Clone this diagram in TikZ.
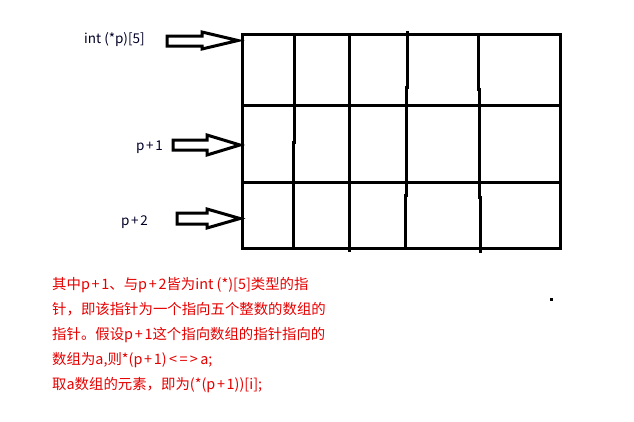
\documentclass[tikz,border=0pt]{standalone}
\usepackage{fontspec}
\setmainfont{Liberation Sans}
\newfontfamily\cjk{Noto Sans CJK SC}
\newcommand{\pl}{\hspace{0.12em}+\hspace{0.12em}}
\begin{document}
\begin{tikzpicture}[x=1pt,y=-1pt,
  gridline/.style={line width=3pt,line cap=rect},
  blockarr/.style={draw=black,line width=3pt,fill=white,line join=miter},
  lbl/.style={anchor=west,inner sep=0pt,font=\cjk\fontsize{13.5}{15}\selectfont,text=black!85!blue},
  note/.style={anchor=north west,inner sep=0pt,align=left,text=red!90!black,
    font=\cjk\fontsize{14.4}{25}\selectfont}]
\useasboundingbox (0,0) rectangle (634,421);
% grid
\draw[gridline] (242,34) rectangle (560,248);
\draw[gridline] (242,105) -- (560,105);
\draw[gridline] (242,182) -- (560,182);
\draw[gridline] (294,34) -- (294,142);
\draw[gridline] (293,142) -- (293,248);
\draw[gridline] (349,34) -- (349,250);
\draw[gridline] (407,32) -- (407,87);
\draw[gridline] (406,87) -- (406,195);
\draw[gridline] (405,195) -- (405,248);
\draw[gridline] (478,34) -- (478,89);
\draw[gridline] (479,89) -- (479,197);
\draw[gridline] (480,197) -- (480,251);
% arrows
\draw[blockarr] (167,36) -- (202,36) -- (202,32) -- (238,40.5) -- (202,49) -- (202,46) -- (167,46) -- cycle;
\draw[blockarr] (173,140) -- (207,140) -- (207,135) -- (240,145) -- (207,155) -- (207,150) -- (173,150) -- cycle;
\draw[blockarr] (177,213) -- (207,213) -- (207,209) -- (240,218.5) -- (207,228) -- (207,224) -- (177,224) -- cycle;
% labels
\node[lbl] (l0) at (84,40) {int (*p)[5]};
\node[lbl] (l1) at (136,147) {p\pl1};
\node[lbl] (l2) at (121,222) {p\pl2};
% note
\node[note] (n) at (52,277) {其中p\pl1、与p\pl2皆为int (*)[5]类型的指\\针，即该指针为一个指向五个整数的数组的\\指针。假设p\pl1这个指向数组的指针指向的\\数组为a,则*(p\pl1)\,<\,=\,>\,a;\\取a数组的元素，即为(*(p\pl1))[i];};
\fill (549.5,297.5) rectangle (552.5,300.5);
\end{tikzpicture}
\end{document}
